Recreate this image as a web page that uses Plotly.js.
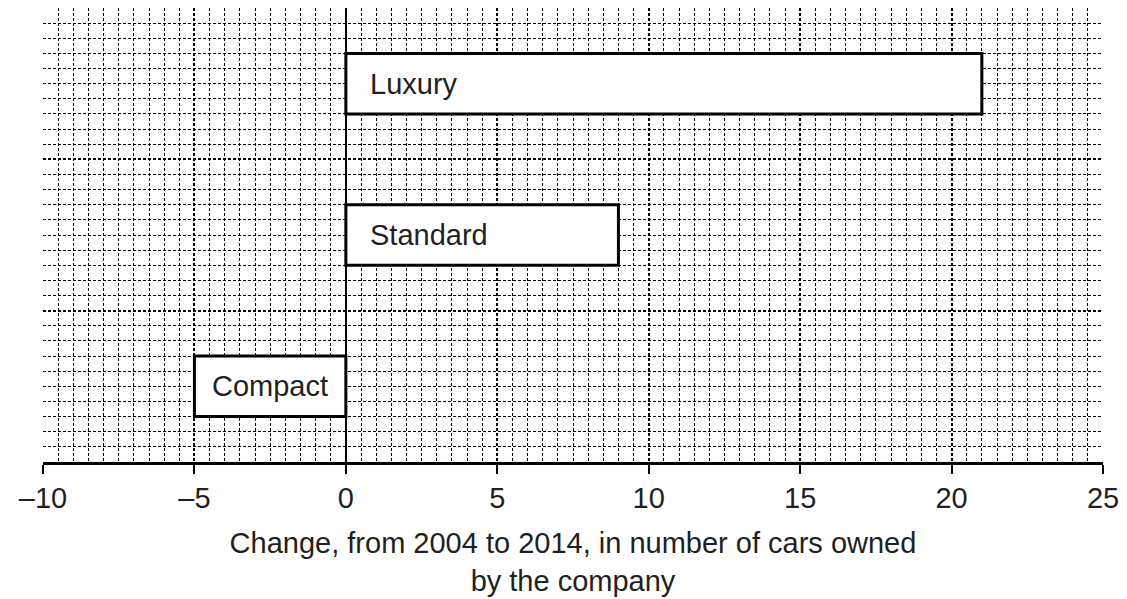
<!DOCTYPE html>
<html>
<head>
<meta charset="utf-8">
<script src="https://cdn.plot.ly/plotly-3.0.1.min.js"></script>
<style>html,body{margin:0;padding:0;background:#fff;}#chart{width:1127px;height:599px;}</style>
</head>
<body>
<div id="chart"></div>
<script>
const categories = ['Compact', 'Standard', 'Luxury'];
const changes = [-5, 9, 21];
const xTickVals = [-10, -5, 0, 5, 10, 15, 20, 25];
const xTitle = 'Change, from 2004 to 2014, in number of cars owned<br>by the company';

const textColor = '#231f20';
const font = {family: 'Liberation Sans, Arial, sans-serif', size: 29, color: textColor};

const barTrace = {
  type: 'bar',
  orientation: 'h',
  x: changes,
  y: categories,
  width: 0.4,
  marker: {color: '#ffffff', line: {color: '#000', width: 3}},
  hoverinfo: 'skip'
};

// empty trace so that the overlaid grid axis is drawn
const gridTrace = {type: 'scatter', x: [], y: [], yaxis: 'y2', hoverinfo: 'skip', showlegend: false};

const annotations = categories.map((c, i) => {
  const v = changes[i];
  return v >= 0
    ? {x: 0, y: c, xref: 'x', yref: 'y', text: c, showarrow: false, xanchor: 'left', xshift: 22, font: font}
    : {x: v / 2, y: c, xref: 'x', yref: 'y', text: c, showarrow: false, xanchor: 'center', font: font};
});

const minorGrid = {color: '#000', width: 1, dash: '3px,2px'};

const layout = {
  width: 1127, height: 599,
  margin: {l: 43, r: 24, t: 8, b: 137},
  paper_bgcolor: '#fff', plot_bgcolor: '#fff',
  showlegend: false,
  font: font,
  xaxis: {
    range: [-10, 25],
    tickvals: xTickVals,
    ticktext: xTickVals.map(v => v < 0 ? '\u2013' + Math.abs(v) : String(v)),
    ticks: 'outside', ticklen: 9, tickwidth: 2, tickcolor: '#000',
    showline: true, linecolor: '#000', linewidth: 2.5,
    showgrid: true, gridcolor: '#000', gridwidth: 2, griddash: '3px,2px',
    minor: {dtick: 0.5, showgrid: true, gridcolor: minorGrid.color, gridwidth: minorGrid.width, griddash: minorGrid.dash, ticks: ''},
    zeroline: true, zerolinecolor: '#000', zerolinewidth: 2.5,
    tickfont: {family: font.family, size: 29, color: textColor},
    title: {text: xTitle, font: {family: font.family, size: 29, color: textColor}, standoff: 20},
    fixedrange: true
  },
  yaxis: {
    type: 'category',
    categoryorder: 'array', categoryarray: categories,
    range: [-0.5, 2.5],
    showgrid: false, showticklabels: false, ticks: '', showline: false, zeroline: false,
    fixedrange: true
  },
  yaxis2: {
    overlaying: 'y', side: 'left',
    range: [0, 3], dtick: 1,
    showgrid: true, gridcolor: '#000', gridwidth: 2, griddash: '3px,2px',
    minor: {dtick: 0.1, showgrid: true, gridcolor: minorGrid.color, gridwidth: minorGrid.width, griddash: minorGrid.dash, ticks: ''},
    showticklabels: false, ticks: '', showline: false, zeroline: false,
    fixedrange: true
  },
  annotations: annotations,
  bargap: 0
};

Plotly.newPlot('chart', [barTrace, gridTrace], layout, {displayModeBar: false, staticPlot: true});
</script>
</body>
</html>
